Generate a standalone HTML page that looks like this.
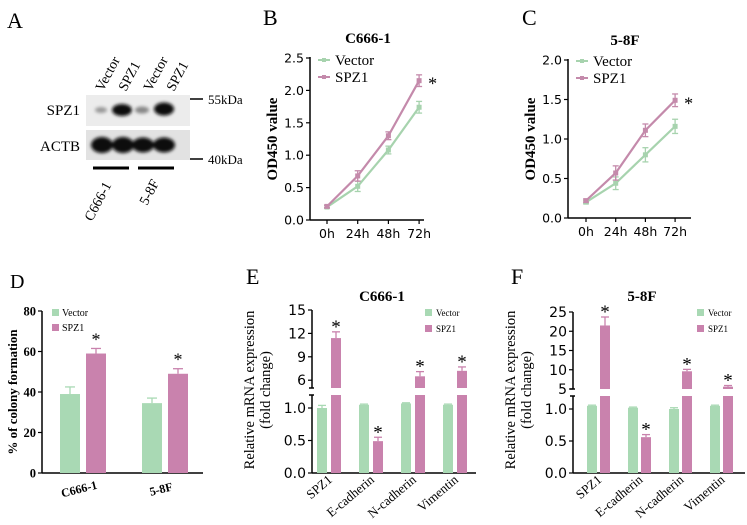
<!DOCTYPE html>
<html><head><meta charset="utf-8">
<style>
html,body{margin:0;padding:0;background:#fff;}
svg{display:block;font-family:"Liberation Serif",serif;}
.sans{font-family:"DejaVu Sans","Liberation Sans",sans-serif;}
</style></head>
<body>
<svg id="fig" width="747" height="525" viewBox="0 0 747 525" xmlns="http://www.w3.org/2000/svg">
<defs>
<filter id="blur" x="-50%" y="-50%" width="200%" height="200%"><feGaussianBlur stdDeviation="1.6"/></filter>
</defs>
<g>
<text x="7" y="28" font-size="22">A</text>
<rect x="86" y="95" width="104" height="31" fill="#ececec"/>
<rect x="86" y="130" width="104" height="30" fill="#e2e2e2"/>
<g filter="url(#blur)">
<ellipse cx="101" cy="110" rx="6" ry="3" fill="#999"/>
<ellipse cx="122" cy="110" rx="10" ry="6" fill="#111"/>
<ellipse cx="142" cy="110" rx="7" ry="3.5" fill="#888"/>
<ellipse cx="164" cy="109" rx="10" ry="6.5" fill="#0a0a0a"/>
<ellipse cx="102" cy="145" rx="11" ry="8" fill="#080808"/>
<ellipse cx="123" cy="145" rx="11" ry="8" fill="#080808"/>
<ellipse cx="143" cy="145" rx="11" ry="7.5" fill="#080808"/>
<ellipse cx="164" cy="145" rx="11" ry="7.5" fill="#080808"/>
</g>
<text x="80" y="115" font-size="15" text-anchor="end">SPZ1</text>
<text x="80" y="151" font-size="15" text-anchor="end">ACTB</text>
<line x1="190" y1="99" x2="203" y2="99" stroke="#000" stroke-width="1.5"/>
<text x="208" y="104" font-size="13">55kDa</text>
<line x1="190" y1="159" x2="203" y2="159" stroke="#000" stroke-width="1.5"/>
<text x="208" y="164" font-size="13">40kDa</text>
<text transform="translate(103,92) rotate(-62)" font-size="14">Vector</text>
<text transform="translate(126,92) rotate(-62)" font-size="14">SPZ1</text>
<text transform="translate(151,92) rotate(-62)" font-size="14">Vector</text>
<text transform="translate(174,92) rotate(-62)" font-size="14">SPZ1</text>
<rect x="93" y="166.5" width="36" height="3" fill="#000"/>
<rect x="138" y="166.5" width="36" height="3" fill="#000"/>
<text transform="translate(92,222) rotate(-62)" font-size="14">C666-1</text>
<text transform="translate(147,206) rotate(-62)" font-size="14">5-8F</text>
</g>
<text x="263" y="25" font-size="22">B</text>
<text x="522" y="25" font-size="22">C</text>
<text x="10" y="288" font-size="20">D</text>
<text x="246" y="284" font-size="22">E</text>
<text x="511" y="284" font-size="22">F</text>
<g id="plots"></g>
</svg>
<script>
// Panel B data
const timeLabels = ["0h","24h","48h","72h"];
const bVector = [0.2, 0.52, 1.08, 1.74];
const bVectorErr = [0.02, 0.08, 0.06, 0.09];
const bSpz1 = [0.21, 0.68, 1.3, 2.15];
const bSpz1Err = [0.02, 0.08, 0.06, 0.09];
const bTicks = [0, 0.5, 1.0, 1.5, 2.0, 2.5];
// Panel C data
const cVector = [0.2, 0.44, 0.8, 1.16];
const cVectorErr = [0.02, 0.08, 0.09, 0.09];
const cSpz1 = [0.22, 0.57, 1.11, 1.49];
const cSpz1Err = [0.02, 0.09, 0.08, 0.08];
const cTicks = [0, 0.5, 1.0, 1.5, 2.0];
// Panel D data
const dCategories = ["C666-1","5-8F"];
const dVector = [39, 34.5];
const dVectorErr = [3.5, 2.5];
const dSpz1 = [59, 49];
const dSpz1Err = [2.5, 2.5];
const dTicks = [0, 20, 40, 60, 80];
// Panel E data
const geneCategories = ["SPZ1","E-cadherin","N-cadherin","Vimentin"];
const eVector = [1.0, 1.05, 1.07, 1.05];
const eVectorErr = [0.04, 0.01, 0.01, 0.01];
const eSpz1 = [11.4, 0.49, 6.5, 7.2];
const eSpz1Err = [0.8, 0.06, 0.6, 0.5];
const eLowTicks = [0, 0.5, 1.0];
const eHighTicks = [6, 9, 12, 15];
// Panel F data
const fVector = [1.05, 1.02, 1.0, 1.05];
const fVectorErr = [0.01, 0.01, 0.02, 0.01];
const fSpz1 = [21.5, 0.56, 9.6, 5.6];
const fSpz1Err = [2.2, 0.04, 0.5, 0.3];
const fLowTicks = [0, 0.5, 1.0];
const fHighTicks = [5, 10, 15, 20, 25];

const NS = "http://www.w3.org/2000/svg";
const root = document.getElementById("plots");
const GREEN = "#a9d9b4", PINK = "#c982ad", LGREEN = "#a7d3ae", LPINK = "#c48aab";
function el(tag, attrs, parent) {
  const e = document.createElementNS(NS, tag);
  for (const k in attrs) e.setAttribute(k, attrs[k]);
  (parent || root).appendChild(e);
  return e;
}
function txt(s, attrs, parent) { const t = el("text", attrs, parent); t.textContent = s; return t; }

function lineChart(o) {
  const g = el("g", {});
  
  
  const y = v => o.y0 - (v - 0) / o.ymax * (o.y0 - o.ytop);
  const x = i => o.x0 + i * o.dx;
  el("line", {x1:o.ax, y1:o.ytop-1, x2:o.ax, y2:o.y0, stroke:"#000","stroke-width":1.5}, g);
  el("line", {x1:o.ax, y1:o.y0, x2:o.axEnd, y2:o.y0, stroke:"#000","stroke-width":1.5}, g);
  o.ticks.forEach(t => {
    el("line", {x1:o.ax-4, y1:y(t), x2:o.ax, y2:y(t), stroke:"#000","stroke-width":1.2}, g);
    const lab = txt(t.toFixed(1), {x:o.ax-6, y:y(t)+4.5, "font-size":12.5, "text-anchor":"end", class:"sans"}, g);
    
    
  });
  timeLabels.forEach((l, i) => {
    el("line", {x1:x(i), y1:o.y0, x2:x(i), y2:o.y0+4, stroke:"#000","stroke-width":1.2}, g);
    const lab = txt(l, {x:x(i), y:o.y0+18, "font-size":12.5, "text-anchor":"middle", class:"sans"}, g);
    
    
  });
  [[o.vec, o.vecErr, LGREEN, "vector-line"], [o.spz, o.spzErr, LPINK, "spz1-line"]].forEach(([d, e, c, n]) => {
    const p = el("polyline", {points: d.map((v,i)=>x(i)+","+y(v)).join(" "), fill:"none", stroke:c, "stroke-width":2.2}, g);
    
    
    d.forEach((v, i) => {
      el("line", {x1:x(i), y1:y(v+e[i]), x2:x(i), y2:y(v-e[i]), stroke:c, "stroke-width":1.3}, g);
      el("line", {x1:x(i)-3, y1:y(v+e[i]), x2:x(i)+3, y2:y(v+e[i]), stroke:c, "stroke-width":1.3}, g);
      el("line", {x1:x(i)-3, y1:y(v-e[i]), x2:x(i)+3, y2:y(v-e[i]), stroke:c, "stroke-width":1.3}, g);
      const m = el("rect", {x:x(i)-2.5, y:y(v)-2.5, width:5, height:5, fill:c}, g);
      
      
    });
  });
  const last = o.spz.length - 1;
  const st = txt("*", {x:x(last)+9, y:y(o.spz[last])+9, "font-size":18}, g);
  
  
  const ti = txt(o.title, {x:o.tx, y:o.ty, "font-size":15, "font-weight":"bold", "text-anchor":"middle"}, g);
  
  
  const yl = txt("OD450 value", {transform:`translate(${o.ax-33},${(o.y0+o.ytop)/2}) rotate(-90)`, "font-size":15, "font-weight":"bold", "text-anchor":"middle"}, g);
  
  
  [[LGREEN,"Vector",0],[LPINK,"SPZ1",17]].forEach(([c,n,dy]) => {
    const lg = el("g", {}, g);
    
    
    el("line", {x1:o.lx, y1:o.ly+dy, x2:o.lx+12, y2:o.ly+dy, stroke:c, "stroke-width":2}, lg);
    el("rect", {x:o.lx+4, y:o.ly+dy-2, width:4, height:4, fill:c}, lg);
    txt(n, {x:o.lx+17, y:o.ly+dy+5, "font-size":15}, lg);
  });
}
lineChart({name:"chart-b-c666-1", vec:bVector, vecErr:bVectorErr, spz:bSpz1, spzErr:bSpz1Err, ticks:bTicks, ymax:2.5,
  ax:310, axEnd:424, y0:220, ytop:58, x0:327, dx:30.7, title:"C666-1", tx:368, ty:43, lx:318, ly:60});
lineChart({name:"chart-c-5-8f", vec:cVector, vecErr:cVectorErr, spz:cSpz1, spzErr:cSpz1Err, ticks:cTicks, ymax:2.0,
  ax:568, axEnd:691, y0:218, ytop:60, x0:586, dx:29.7, title:"5-8F", tx:625, ty:45, lx:576, ly:61});

(function(){
  const g = el("g", {});
  
  
  const ax = 42, y0 = 473, ytop = 311, ymax = 80;
  const y = v => y0 - v / ymax * (y0 - ytop);
  el("line", {x1:ax, y1:ytop, x2:ax, y2:y0, stroke:"#000","stroke-width":1.5}, g);
  el("line", {x1:ax, y1:y0, x2:203, y2:y0, stroke:"#000","stroke-width":1.5}, g);
  dTicks.forEach(t => {
    el("line", {x1:ax-4, y1:y(t), x2:ax, y2:y(t), stroke:"#000","stroke-width":1.2}, g);
    const l = txt(String(t), {x:ax-6, y:y(t)+4.5, "font-size":12.5, "font-weight":"bold", "text-anchor":"end"}, g);
    
    
  });
  const groupX = [60, 142], bw = 20, gap = 6;
  dCategories.forEach((c, i) => {
    [[dVector, dVectorErr, GREEN, 0, "bar-vector"], [dSpz1, dSpz1Err, PINK, 1, "bar-spz1"]].forEach(([d, e, col, k, n]) => {
      const bx = groupX[i] + k * (bw + gap);
      const b = el("rect", {x:bx, y:y(d[i]), width:bw, height:y0 - y(d[i]), fill:col}, g);
      
      
      el("line", {x1:bx+bw/2, y1:y(d[i]), x2:bx+bw/2, y2:y(d[i]+e[i]), stroke:col, "stroke-width":1.3}, g);
      el("line", {x1:bx+bw/2-5, y1:y(d[i]+e[i]), x2:bx+bw/2+5, y2:y(d[i]+e[i]), stroke:col, "stroke-width":1.3}, g);
      if (k === 1) {
        const s = txt("*", {x:bx+bw/2, y:y(d[i]+e[i])-3, "font-size":18, "text-anchor":"middle"}, g);
        
        
      }
    });
    const xl = txt(c, {transform:`translate(${groupX[i]+bw+gap/2-3},${y0+20}) rotate(-14)`, "font-size":12, "font-weight":"bold", "text-anchor":"middle"}, g);
    
    
  });
  const yl = txt("% of colony formation", {transform:`translate(17,392) rotate(-90)`, "font-size":13, "font-weight":"bold", "text-anchor":"middle"}, g);
  
  
  [[GREEN,"Vector",0],[PINK,"SPZ1",15]].forEach(([c,n,dy]) => {
    const lg = el("g", {}, g);
    
    
    el("rect", {x:52, y:309+dy, width:7, height:7, fill:c}, lg);
    txt(n, {x:62, y:316+dy, "font-size":10}, lg);
  });
})();

function brokenBar(o) {
  const g = el("g", {});
  
  
  const y0 = 473;
  const lowTop = o.lowBreak, lowMax = 1.2;
  const yLow = v => y0 - v / 1.0 * o.lowUnit;
  const yHigh = v => o.hiBase - (v - o.hiMin) * o.hiUnit;
  const ymap = v => v <= lowMax ? yLow(v) : yHigh(Math.max(v, o.hiMin));
  el("line", {x1:o.ax, y1:lowTop, x2:o.ax, y2:y0, stroke:"#000","stroke-width":1.5}, g);
  el("line", {x1:o.ax, y1:yHigh(o.hiMax), x2:o.ax, y2:o.hiBase, stroke:"#000","stroke-width":1.5}, g);
  el("line", {x1:o.ax-3, y1:lowTop, x2:o.ax+2, y2:lowTop, stroke:"#000","stroke-width":1.5}, g);
  el("line", {x1:o.ax-3, y1:o.hiBase, x2:o.ax+2, y2:o.hiBase, stroke:"#000","stroke-width":1.5}, g);
  el("line", {x1:o.ax, y1:y0, x2:o.axEnd, y2:y0, stroke:"#000","stroke-width":1.5}, g);
  o.lowTicks.forEach(t => {
    el("line", {x1:o.ax-4, y1:yLow(t), x2:o.ax, y2:yLow(t), stroke:"#000","stroke-width":1.2}, g);
    const l = txt(t.toFixed(1), {x:o.ax-6, y:yLow(t)+5, "font-size":14, "text-anchor":"end", class:"sans"}, g);
    
    
  });
  o.hiTicks.forEach(t => {
    el("line", {x1:o.ax-4, y1:yHigh(t), x2:o.ax, y2:yHigh(t), stroke:"#000","stroke-width":1.2}, g);
    const l = txt(String(t), {x:o.ax-6, y:yHigh(t)+5, "font-size":14, "text-anchor":"end", class:"sans"}, g);
    
    
  });
  geneCategories.forEach((c, i) => {
    const gx = o.gx0 + i * o.gdx;
    [[o.vec, o.vecErr, GREEN, 0, "bar-vector"], [o.spz, o.spzErr, PINK, 1, "bar-spz1"]].forEach(([d, e, col, k, n]) => {
      const bx = gx + k * (o.bw + o.gap);
      const v = d[i];
      const bg = el("g", {}, g);
      
      
      if (v <= lowMax) {
        el("rect", {x:bx, y:yLow(v), width:o.bw, height:y0 - yLow(v), fill:col}, bg);
      } else {
        el("rect", {x:bx, y:lowTop, width:o.bw, height:y0 - lowTop, fill:col}, bg);
        el("rect", {x:bx, y:yHigh(v), width:o.bw, height:o.hiBase - yHigh(v), fill:col}, bg);
      }
      const top = ymap(v + e[i]);
      el("line", {x1:bx+o.bw/2, y1:ymap(v), x2:bx+o.bw/2, y2:top, stroke:col, "stroke-width":1.3}, bg);
      el("line", {x1:bx+o.bw/2-4, y1:top, x2:bx+o.bw/2+4, y2:top, stroke:col, "stroke-width":1.3}, bg);
      if (k === 1) {
        const s = txt("*", {x:bx+o.bw/2, y:top+1, "font-size":19, "text-anchor":"middle"}, g);
        
        
      }
    });
    const cx = gx + o.bw + o.gap / 2 + 4;
    const xl = txt(c, {transform:`translate(${cx},${y0+8}) rotate(-40)`, "font-size":13, "text-anchor":"end"}, g);
    
    
  });
  const ycen = 390;
  const y1 = txt("Relative mRNA expression", {transform:`translate(${o.ax-58},${ycen}) rotate(-90)`, "font-size":14.5, "text-anchor":"middle"}, g);
  
  
  const y2 = txt("(fold change)", {transform:`translate(${o.ax-42},${ycen}) rotate(-90)`, "font-size":14.5, "text-anchor":"middle"}, g);
  
  
  const ti = txt(o.title, {x:o.tx, y:301, "font-size":15, "font-weight":"bold", "text-anchor":"middle"}, g);
  
  
  [[GREEN,"Vector",0],[PINK,"SPZ1",16]].forEach(([c,n,dy]) => {
    const lg = el("g", {}, g);
    
    
    el("rect", {x:o.lx, y:309+dy, width:7, height:7, fill:c}, lg);
    txt(n, {x:o.lx+11, y:316+dy, "font-size":9}, lg);
  });
}
brokenBar({name:"chart-e-c666-1-mrna", vec:eVector, vecErr:eVectorErr, spz:eSpz1, spzErr:eSpz1Err,
  lowTicks:eLowTicks, hiTicks:eHighTicks, ax:312, axEnd:476, lowUnit:65, lowBreak:395,
  hiBase:388, hiMin:5, hiMax:15, hiUnit:7.8, gx0:317, gdx:42, bw:10, gap:4, title:"C666-1", tx:382, lx:425});
brokenBar({name:"chart-f-5-8f-mrna", vec:fVector, vecErr:fVectorErr, spz:fSpz1, spzErr:fSpz1Err,
  lowTicks:fLowTicks, hiTicks:fHighTicks, ax:573, axEnd:745, lowUnit:64, lowBreak:396,
  hiBase:389, hiMin:5, hiMax:25, hiUnit:3.85, gx0:587, gdx:41, bw:10, gap:3, title:"5-8F", tx:642, lx:697});
</script>
</body></html>
